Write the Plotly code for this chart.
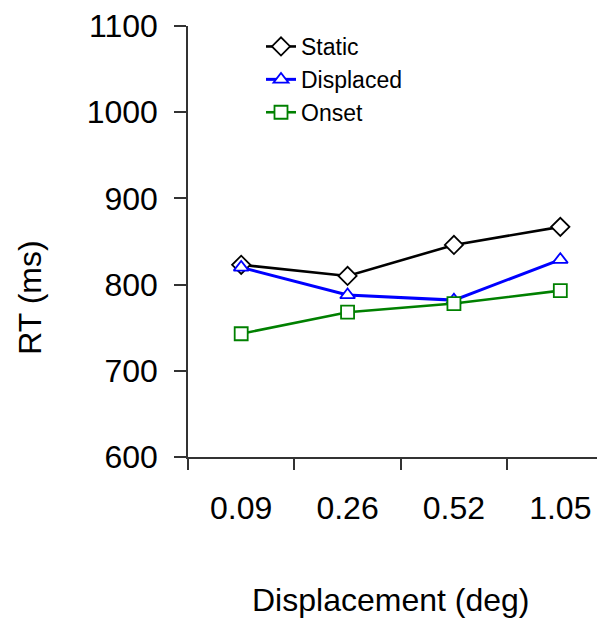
import plotly.graph_objects as go

categories = ["0.09", "0.26", "0.52", "1.05"]
static_rt = [823, 810, 846, 867]
displaced_rt = [820, 788, 782, 829]
onset_rt = [743, 768, 778, 793]

FONT = "Arial, Liberation Sans, sans-serif"
# page body has an 8px margin, so the figure is laid out 8px up/left
W, H = 597, 613
L, R, T, B = 180, 0, 16, 164
PW, PH = W - L - R, H - T - B

fig = go.Figure()
fig.add_trace(go.Scatter(
    x=categories, y=static_rt, name="Static", mode="lines+markers",
    line=dict(color="#000000", width=2.6),
    marker=dict(symbol="diamond", size=14, color="white", line=dict(color="#000000", width=1.8)),
))
fig.add_trace(go.Scatter(
    x=categories, y=displaced_rt, name="Displaced", mode="lines+markers",
    line=dict(color="#0000ff", width=3),
    marker=dict(symbol="triangle-up", size=13, color="white", line=dict(color="#0000ff", width=1.8)),
))
fig.add_trace(go.Scatter(
    x=categories, y=onset_rt, name="Onset", mode="lines+markers",
    line=dict(color="#008000", width=2.6),
    marker=dict(symbol="square", size=13, color="white", line=dict(color="#008000", width=1.8)),
))

fig.update_layout(
    width=W, height=H,
    margin=dict(l=L, r=R, t=T, b=B, pad=0),
    paper_bgcolor="white", plot_bgcolor="white",
    font=dict(family=FONT, color="black", size=32),
    showlegend=True,
    legend=dict(
        x=(253 - L) / PW, y=1 - (15 - T) / PH,
        xanchor="left", yanchor="top",
        font=dict(size=23, family=FONT, color="black"),
        bgcolor="rgba(0,0,0,0)", borderwidth=0,
        tracegroupgap=0, itemwidth=30,
    ),
    xaxis=dict(
        type="category", range=[-0.5, 3.42],
        showline=True, linecolor="#333", linewidth=1.5,
        ticks="outside", ticklen=11, tickwidth=1.5, tickcolor="#333",
        tickson="boundaries", showgrid=False, zeroline=False,
        tickfont=dict(size=32, family=FONT, color="black"),
        ticklabelstandoff=22, ticklabeloverflow="allow",
    ),
    yaxis=dict(
        range=[600, 1100], tickvals=[600, 700, 800, 900, 1000, 1100],
        showline=True, linecolor="#333", linewidth=1.5,
        ticks="outside", ticklen=12, tickwidth=1.5, tickcolor="#333",
        showgrid=False, zeroline=False,
        tickfont=dict(size=32, family=FONT, color="black"),
        ticklabelstandoff=10, ticklabeloverflow="allow",
    ),
    annotations=[
        dict(text="Displacement (deg)", xref="paper", yref="paper",
             x=(382 - L) / PW, y=-(593 - (H - B)) / PH,
             xanchor="center", yanchor="middle", showarrow=False,
             font=dict(size=32, family=FONT, color="black")),
        dict(text="RT (ms)", xref="paper", yref="paper",
             x=-(L - 22) / PW, y=1 - (289 - T) / PH,
             xanchor="center", yanchor="middle", showarrow=False, textangle=-90,
             font=dict(size=32, family=FONT, color="black")),
    ],
)

fig.write_html("out.html")
